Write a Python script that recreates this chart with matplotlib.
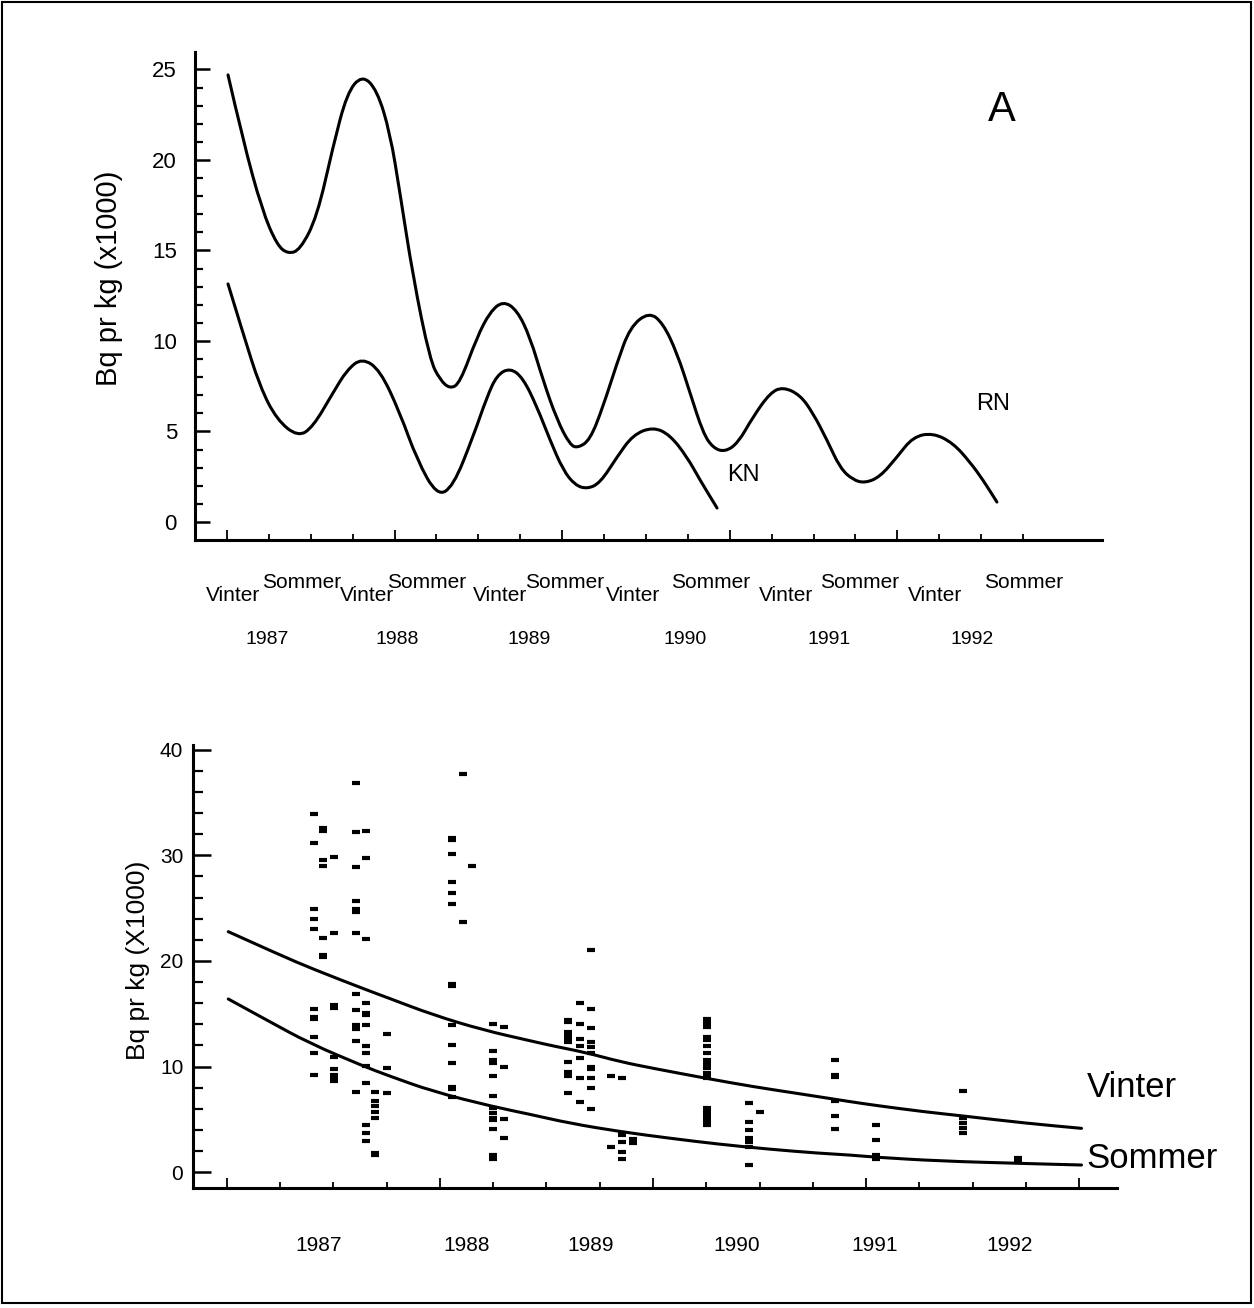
import matplotlib
matplotlib.use("Agg")
import matplotlib.pyplot as plt
import matplotlib.transforms as mtransforms
from matplotlib.patches import Rectangle, PathPatch
from matplotlib.path import Path
from matplotlib.ticker import MultipleLocator, FixedLocator, NullFormatter

plt.rcParams['font.family'] = ['Liberation Sans', 'DejaVu Sans']

# ---- panel A: smoothed seasonal curves (x in decimal years) ----
rn_x = [1987.006, 1987.095, 1987.209, 1987.298, 1987.364, 1987.436, 1987.537, 1987.632,
        1987.716, 1987.806, 1987.895, 1987.973, 1988.032, 1988.110, 1988.211, 1988.271,
        1988.331, 1988.390, 1988.492, 1988.569, 1988.647, 1988.730, 1988.808, 1988.885,
        1988.969, 1989.047, 1989.094, 1989.166, 1989.243, 1989.327, 1989.405, 1989.518,
        1989.601, 1989.685, 1989.763, 1989.840, 1989.900, 1989.971, 1990.049, 1990.138,
        1990.240, 1990.317, 1990.419, 1990.496, 1990.580, 1990.658, 1990.735, 1990.807,
        1990.896, 1990.998, 1991.093, 1991.212, 1991.332, 1991.433, 1991.511, 1991.594]
rn_y = [24.70, 21.10, 17.24, 15.30, 14.81, 15.03, 16.85, 20.72, 23.70, 24.70,
        23.87, 21.49, 18.18, 13.54, 8.95, 7.85, 7.35, 7.68, 10.22, 11.60,
        12.21, 11.71, 10.22, 7.85, 5.64, 4.25, 4.09, 4.53, 6.35, 8.78,
        10.77, 11.60, 10.99, 9.34, 7.13, 4.92, 4.09, 3.87, 4.36, 5.80,
        7.13, 7.46, 7.02, 6.02, 4.53, 2.98, 2.32, 2.15, 2.49, 3.59,
        4.70, 4.92, 4.36, 3.31, 2.32, 1.10]

kn_x = [1987.006, 1987.095, 1987.197, 1987.298, 1987.424, 1987.513, 1987.632, 1987.716,
        1987.805, 1987.913, 1988.032, 1988.134, 1988.253, 1988.348, 1988.468, 1988.551,
        1988.611, 1988.689, 1988.766, 1988.850, 1988.927, 1989.005, 1989.076, 1989.148,
        1989.226, 1989.327, 1989.422, 1989.542, 1989.643, 1989.745, 1989.822, 1989.924]
kn_y = [13.15, 10.44, 7.46, 5.64, 4.70, 5.25, 7.13, 8.40, 9.06, 8.40,
        6.02, 3.43, 1.44, 1.93, 4.70, 6.91, 8.12, 8.51, 7.96, 6.35,
        4.53, 2.87, 2.04, 1.82, 2.15, 3.59, 4.81, 5.25, 4.81, 3.59,
        2.32, 0.77]

vinter_pos = [1987.036, 1987.835, 1988.629, 1989.422, 1990.335, 1991.224]
sommer_pos = [1987.447, 1988.193, 1989.017, 1989.888, 1990.777, 1991.755]
top_year_pos = [1987.239, 1988.014, 1988.802, 1989.733, 1990.592, 1991.445]
years = ['1987', '1988', '1989', '1990', '1991', '1992']

# ---- panel B: individual measurements (x in quarter index) ----
col_t = [1.63, 1.81, 2.01, 2.42, 2.62, 2.79, 3.01, 4.22, 4.43, 4.61, 5.00, 5.20,
         6.41, 6.63, 6.83, 7.22, 7.41, 7.62, 9.02, 9.80, 10.00, 11.41, 12.19, 13.82, 14.85]
col_vals = [
    [33.87, 31.19, 24.91, 23.94, 22.99, 15.45, 14.47, 14.70, 12.84, 11.32, 9.21],
    [32.32, 32.55, 29.55, 28.98, 22.20, 20.40, 20.60],
    [29.86, 22.67, 15.58, 15.80, 10.94, 9.74, 9.21, 8.67, 8.90],
    [36.80, 32.23, 28.92, 25.70, 24.66, 24.90, 22.67, 16.84, 15.36, 13.94, 13.53, 12.43, 7.63],
    [32.32, 29.71, 22.07, 15.99, 14.88, 15.10, 13.94, 11.98, 11.26, 10.06, 8.48, 4.48, 3.75, 2.96],
    [7.63, 6.78, 6.28, 5.74, 5.11, 1.64, 1.85],
    [13.09, 9.84, 7.47],
    [31.44, 31.65, 30.09, 27.44, 26.40, 25.39, 17.63, 17.85, 13.94, 12.05, 10.31, 7.85, 8.05, 7.10],
    [37.65, 23.65],
    [28.98],
    [14.00, 11.51, 10.38, 10.60, 9.11, 7.25, 6.12, 5.64, 4.95, 5.15, 4.07, 1.64, 1.23],
    [13.78, 9.93, 5.01, 3.22],
    [14.25, 14.45, 13.31, 12.68, 12.90, 12.36, 10.47, 9.52, 9.11, 7.54],
    [16.05, 14.00, 12.58, 11.95, 10.79, 8.89, 6.62],
    [21.03, 15.42, 13.62, 12.36, 11.89, 11.32, 9.74, 9.95, 8.96, 8.01, 5.99],
    [9.15, 2.37],
    [8.96, 3.53, 3.75, 2.90, 1.96, 1.23],
    [3.12, 2.74],
    [14.47, 14.10, 13.78, 12.84, 12.52, 11.95, 11.26, 10.63, 10.25, 9.84, 9.43, 9.11, 8.89,
     6.05, 5.74, 5.42, 5.11, 4.79, 4.48],
    [6.59, 4.79, 4.00, 3.22, 2.90, 2.43, 0.69],
    [5.68],
    [10.63, 9.21, 9.05, 6.75, 5.33, 4.07],
    [4.48, 3.06, 1.64, 1.23, 1.42],
    [7.69, 5.11, 4.64, 4.16, 3.69],
    [1.32, 1.01],
]

vin_t = [0.03, 1.0, 1.63, 2.63, 3.0, 3.88, 4.81, 5.69, 6.13, 6.75, 7.38, 8.0, 9.0,
         9.88, 10.82, 11.69, 12.19, 13.07, 13.82, 15.01, 16.04]
vin_v = [22.77, 20.56, 19.21, 17.25, 16.56, 14.88, 13.47, 12.45, 11.95, 11.32, 10.47, 9.84,
         8.89, 8.10, 7.38, 6.69, 6.32, 5.74, 5.33, 4.64, 4.16]
som_t = [0.03, 0.75, 1.56, 2.56, 3.0, 3.88, 5.0, 5.69, 6.44, 7.38, 8.32, 9.20, 10.19,
         11.13, 11.69, 12.19, 13.38, 14.85, 16.04]
som_v = [16.40, 14.41, 12.20, 10.06, 9.21, 7.63, 6.21, 5.49, 4.64, 3.85, 3.22, 2.68, 2.18,
         1.80, 1.64, 1.42, 1.07, 0.85, 0.69]

bottom_year_pos = [1.72, 4.50, 6.82, 9.57, 12.16, 14.69]


def smooth_line(ax, xs, ys, lw=2.2):
    # read points used as quadratic bezier control points, drawn by matplotlib
    verts = [(xs[0], ys[0])]
    codes = [Path.MOVETO]
    for i in range(1, len(xs) - 1):
        verts.append((xs[i], ys[i]))
        verts.append(((xs[i] + xs[i + 1]) / 2, (ys[i] + ys[i + 1]) / 2))
        codes += [Path.CURVE3, Path.CURVE3]
    verts.append((xs[-1], ys[-1]))
    codes.append(Path.LINETO)
    ax.add_patch(PathPatch(Path(verts, codes), facecolor='none', edgecolor='black',
                           lw=lw, capstyle='round', joinstyle='round'))


def style_axes(ax):
    for s in ['top', 'right']:
        ax.spines[s].set_visible(False)
    for s in ['left', 'bottom']:
        ax.spines[s].set_linewidth(2.2)


fig = plt.figure(figsize=(12.54, 13.08), dpi=100)

# ---------- top panel ----------
ax1 = fig.add_axes([0.1555, 0.5872, 0.7233, 0.3731])
style_axes(ax1)
smooth_line(ax1, rn_x, rn_y)
smooth_line(ax1, kn_x, kn_y)
ax1.set_xlim(1986.809, 1992.221)
ax1.set_ylim(-0.994, 25.97)
ax1.yaxis.set_major_locator(FixedLocator([0, 5, 10, 15, 20, 25]))
ax1.yaxis.set_minor_locator(FixedLocator(list(range(0, 26))))
ax1.xaxis.set_major_locator(FixedLocator([1987, 1988, 1989, 1990, 1991]))
ax1.xaxis.set_minor_locator(FixedLocator([1987 + q * 0.25 for q in range(20)]))
ax1.xaxis.set_major_formatter(NullFormatter())
ax1.tick_params(axis='y', which='major', direction='in', length=11, width=1.8,
                labelsize=16, pad=13)
ax1.tick_params(axis='y', which='minor', direction='in', length=6, width=1.6)
ax1.tick_params(axis='x', which='major', direction='in', length=7, width=1.3)
ax1.tick_params(axis='x', which='minor', direction='in', length=4, width=1.3)

trans1 = mtransforms.blended_transform_factory(ax1.transData, ax1.transAxes)
for xp in sommer_pos:
    ax1.text(xp, -0.088, 'Sommer', transform=trans1, ha='center', va='center', fontsize=15)
for xp in vinter_pos:
    ax1.text(xp, -0.113, 'Vinter', transform=trans1, ha='center', va='center', fontsize=15)
for xp, lab in zip(top_year_pos, years):
    ax1.text(xp, -0.205, lab, transform=trans1, ha='center', va='center', fontsize=14)

ax1.text(1991.624, 22.76, 'A', ha='center', va='center', fontsize=30)
ax1.text(1991.570, 6.52, 'RN', ha='center', va='center', fontsize=17)
ax1.text(1990.079, 2.60, 'KN', ha='center', va='center', fontsize=17)
fig.text(109 / 1254, 1 - 278 / 1308, 'Bq pr kg (x1000)', rotation=90,
         ha='center', va='center', fontsize=21)

# ---------- bottom panel ----------
ax2 = fig.add_axes([0.1539, 0.0917, 0.7366, 0.3387])
style_axes(ax2)
for t, vals in zip(col_t, col_vals):
    ax2.plot([t] * len(vals), vals, linestyle='none', marker='_', markersize=6,
             markeredgewidth=3, color='black')
smooth_line(ax2, vin_t, vin_v)
smooth_line(ax2, som_t, som_v)
ax2.set_xlim(-0.632, 16.70)
ax2.set_ylim(-1.49, 40.43)
ax2.yaxis.set_major_locator(MultipleLocator(10))
ax2.yaxis.set_minor_locator(MultipleLocator(2))
ax2.xaxis.set_major_locator(FixedLocator([0, 4, 8, 12, 16]))
ax2.xaxis.set_minor_locator(FixedLocator(list(range(0, 17))))
ax2.xaxis.set_major_formatter(NullFormatter())
ax2.tick_params(axis='y', which='major', direction='in', length=13, width=1.8,
                labelsize=15, pad=7)
ax2.tick_params(axis='y', which='minor', direction='in', length=7, width=1.6)
ax2.tick_params(axis='x', which='major', direction='in', length=7, width=1.3)
ax2.tick_params(axis='x', which='minor', direction='in', length=4, width=1.3)

trans2 = mtransforms.blended_transform_factory(ax2.transData, ax2.transAxes)
for xp, lab in zip(bottom_year_pos, years):
    ax2.text(xp, -0.1287, lab, transform=trans2, ha='center', va='center', fontsize=15)
ax2.text(16.14, 7.98, 'Vinter', ha='left', va='center', fontsize=25, clip_on=False)
ax2.text(16.14, 1.35, 'Sommer', ha='left', va='center', fontsize=25, clip_on=False)
fig.text(138 / 1254, 1 - 960 / 1308, 'Bq pr kg (X1000)', rotation=90,
         ha='center', va='center', fontsize=19)

# page frame
fig.patches.append(Rectangle((0.0016, 0.0038), 0.996, 0.9946, transform=fig.transFigure,
                             fill=False, edgecolor='black', linewidth=1.5))

fig.savefig('out.png', dpi=100, facecolor='white')
